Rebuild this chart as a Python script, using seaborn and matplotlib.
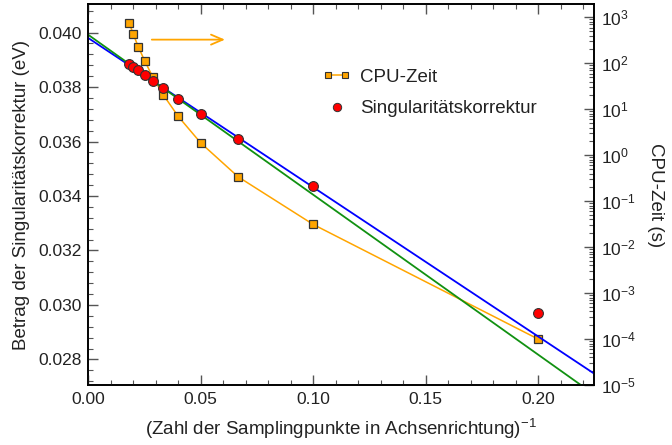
import numpy as np
import pandas as pd
import matplotlib
matplotlib.use("Agg")
import matplotlib.pyplot as plt
import seaborn as sns
from matplotlib.ticker import MultipleLocator, FormatStrFormatter, LogLocator, NullFormatter
from matplotlib.legend_handler import HandlerLine2D
from matplotlib.lines import Line2D

# ---- data ----
n_points = [55, 50, 45, 40, 35, 30, 25, 20, 15, 10, 5]
inv_n = [1.0 / n for n in n_points]
cpu_time = [764, 428, 230, 115, 51.5, 20.6, 6.98, 1.85, 0.338, 0.0312, 1.0e-4]
sing_corr = [0.038851, 0.038752, 0.038617, 0.038459, 0.038239, 0.037956,
             0.037578, 0.037017, 0.036103, 0.034360, 0.029699]
fit_names = ["blue", "green"]
fit_intercepts = [0.039798, 0.039916]
fit_slopes = [-0.05477, -0.0587]
fit_colors = ["#0000ff", "#119111"]

sns.set_theme(style="white")
plt.rcParams['font.family'] = ['Liberation Sans', 'DejaVu Sans']
plt.rcParams['mathtext.fontset'] = 'custom'
plt.rcParams['mathtext.rm'] = 'Liberation Sans'
plt.rcParams['mathtext.it'] = 'Liberation Sans'
FS_T = 12.5
FS_L = 13.5
TXT = "#222222"

fig = plt.figure(figsize=(6.72, 4.45), dpi=100)
ax = fig.add_axes([0.1314, 0.1348, 0.8844 - 0.1314, 0.9899 - 0.1348])
ax2 = ax.twinx()

xlim = (0.0, 0.225)
df = pd.DataFrame({"x": inv_n, "cpu": cpu_time, "corr": sing_corr})

# fit lines on main axis
xs = np.array(xlim)
for b, m, c in zip(fit_intercepts, fit_slopes, fit_colors):
    fdf = pd.DataFrame({"x": xs, "y": b + m * xs})
    sns.lineplot(data=fdf, x="x", y="y", ax=ax, color=c, lw=1.3, zorder=2)

# CPU time on twin axis
sns.lineplot(data=df, x="x", y="cpu", ax=ax2, color="#ffa500", lw=1.1,
             marker="s", markersize=6, markerfacecolor="#ffa500",
             markeredgecolor="#333333", markeredgewidth=0.9, sort=False)
ax2.set_yscale("log")
ax2.set_ylim(10 ** -5.0, 10 ** 3.28)

# singularity correction
sns.scatterplot(data=df, x="x", y="corr", ax=ax, color="#ff0000", s=50,
                edgecolor="#333333", linewidth=0.8, zorder=5)

# put main axis on top
ax.set_zorder(ax2.get_zorder() + 1)
ax.patch.set_visible(False)

ax.set_xlim(*xlim)
ax.set_ylim(0.02706, 0.04103)

# arrow pointing to right axis
ax.annotate("", xy=(0.0620, 0.03974), xytext=(0.0270, 0.03974),
            arrowprops=dict(arrowstyle="->,head_length=0.7,head_width=0.3",
                            color="#ffa500", lw=1.3))

# ticks
ax.xaxis.set_major_locator(MultipleLocator(0.05))
ax.xaxis.set_minor_locator(MultipleLocator(0.01))
ax.xaxis.set_major_formatter(FormatStrFormatter("%.2f"))
ax.yaxis.set_major_locator(MultipleLocator(0.002))
ax.yaxis.set_minor_locator(MultipleLocator(0.0004))
ax.yaxis.set_major_formatter(FormatStrFormatter("%.3f"))
ax.tick_params(axis="x", which="both", direction="in", top=True, bottom=True,
               labelsize=FS_T, labelcolor=TXT, color="#555555", pad=5)
ax.tick_params(axis="y", which="both", direction="in", left=True, right=False,
               labelsize=FS_T, labelcolor=TXT, color="#555555", pad=5)
ax.tick_params(which="major", length=7, width=1.0)
ax.tick_params(which="minor", length=3.5, width=0.8)

ax2.yaxis.set_major_locator(LogLocator(base=10, numticks=20))
ax2.yaxis.set_minor_locator(LogLocator(base=10, subs=np.arange(2, 10), numticks=100))
ax2.yaxis.set_minor_formatter(NullFormatter())
ax2.tick_params(axis="y", which="both", direction="in", right=True,
                labelsize=FS_T, labelcolor=TXT, color="#555555", pad=5)
ax2.tick_params(which="major", length=7, width=1.0)
ax2.tick_params(which="minor", length=3.5, width=0.8)

for a in (ax, ax2):
    for s in a.spines.values():
        s.set_color("black")
        s.set_linewidth(1.2)
        s.set_visible(True)
ax2.set_xlim(*xlim)

ax.set_xlabel(r"(Zahl der Samplingpunkte in Achsenrichtung)$^{-1}$", fontsize=FS_L, color=TXT, labelpad=7)
ax.set_ylabel("Betrag der Singularitätskorrektur (eV)", fontsize=FS_L, color=TXT, labelpad=6)
ax2.set_ylabel("CPU-Zeit (s)", fontsize=FS_L, color=TXT, rotation=-90, labelpad=20)

# legend
h_cpu = Line2D([], [], color="#ffa500", lw=1.1, marker="s", markersize=5,
               markerfacecolor="#ffa500", markeredgecolor="#333333", markeredgewidth=0.8)
h_sc = Line2D([], [], color="none", lw=0, marker="o", markersize=6,
              markerfacecolor="#ff0000", markeredgecolor="#333333", markeredgewidth=0.7)
ax.legend([h_cpu, h_sc], ["CPU-Zeit", "Singularitätskorrektur"],
          handler_map={h_cpu: HandlerLine2D(numpoints=2), h_sc: HandlerLine2D(numpoints=1)},
          loc="upper left", bbox_to_anchor=(0.43, 0.875), frameon=False,
          fontsize=FS_L, handlelength=1.5, handletextpad=0.5, labelspacing=0.75,
          labelcolor=TXT)

fig.savefig("out.png", dpi=100)
